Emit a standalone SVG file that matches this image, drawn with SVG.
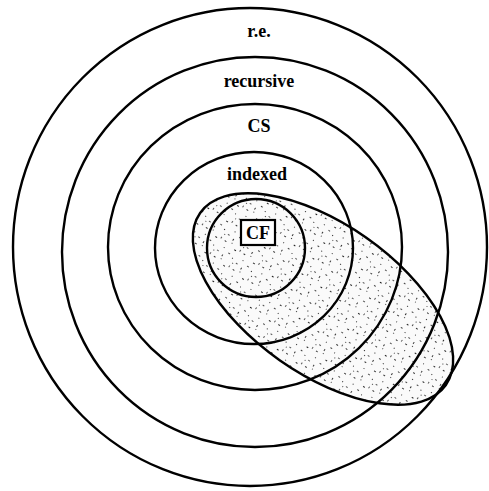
<svg xmlns="http://www.w3.org/2000/svg" width="489" height="491" viewBox="0 0 489 491">
<style>
.ring{fill:none;stroke:#000;stroke-width:2.4}
.lbl{font-family:"Liberation Serif","Times New Roman",serif;font-weight:bold;font-size:18px;fill:#000;text-anchor:middle}
</style>
<defs>
<pattern id="stip" width="23" height="19" patternUnits="userSpaceOnUse">
<rect width="23" height="19" fill="#fafafa"/>
<rect x="2" y="3" width="2" height="1" fill="#333"/>
<rect x="9" y="1" width="1" height="1" fill="#444"/>
<rect x="15" y="5" width="2" height="1" fill="#222"/>
<rect x="20" y="2" width="1" height="2" fill="#555"/>
<rect x="5" y="9" width="1" height="1" fill="#333"/>
<rect x="12" y="11" width="2" height="1" fill="#444"/>
<rect x="18" y="13" width="1" height="1" fill="#222"/>
<rect x="1" y="15" width="2" height="1" fill="#555"/>
<rect x="8" y="16" width="1" height="2" fill="#333"/>
<rect x="21" y="17" width="1" height="1" fill="#444"/>
</pattern>
</defs>
<rect width="489" height="491" fill="#fff"/>
<g id="shaded-region">
<ellipse cx="323" cy="299" rx="150" ry="75" transform="rotate(35 323 299)" fill="url(#stip)"/>
</g>
<g id="re">
<ellipse class="ring" cx="250" cy="247" rx="237" ry="239"/>
<text class="lbl" x="259" y="37">r.e.</text>
</g>
<g id="recursive">
<ellipse class="ring" cx="255" cy="252" rx="193" ry="195"/>
<text class="lbl" x="259" y="87">recursive</text>
</g>
<g id="CS">
<ellipse class="ring" cx="255" cy="247" rx="147" ry="143"/>
<text class="lbl" x="259" y="132">CS</text>
</g>
<g id="indexed">
<ellipse class="ring" cx="254" cy="248" rx="99" ry="96"/>
<text class="lbl" x="257" y="180">indexed</text>
</g>
<g id="CF">
<circle class="ring" cx="256" cy="248" r="49"/>
<rect x="241" y="220" width="34" height="25" fill="#fff" stroke="#000" stroke-width="2.2"/>
<text class="lbl" x="258" y="239">CF</text>
</g>
<g id="ellipse-outline">
<ellipse class="ring" cx="323" cy="299" rx="150" ry="75" transform="rotate(35 323 299)"/>
</g>
</svg>
